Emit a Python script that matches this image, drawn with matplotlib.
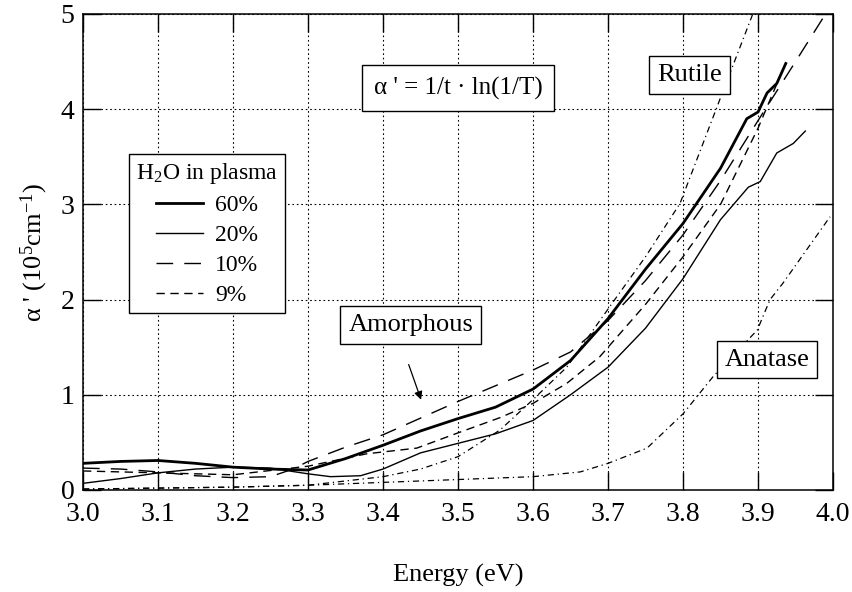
import matplotlib
matplotlib.use("Agg")
import matplotlib.pyplot as plt

plt.rcParams['font.family'] = ['Liberation Serif', 'DejaVu Serif']
plt.rcParams['mathtext.fontset'] = 'custom'
plt.rcParams['mathtext.rm'] = 'Liberation Serif'
plt.rcParams['mathtext.default'] = 'regular'

# 60 % H2O (thick solid)
e60 = [3.0, 3.05, 3.1, 3.15, 3.2, 3.25, 3.3, 3.35, 3.4, 3.45, 3.5, 3.55, 3.6,
       3.65, 3.7, 3.75, 3.8, 3.85, 3.885, 3.9, 3.912, 3.925, 3.937]
a60 = [0.28, 0.30, 0.31, 0.28, 0.24, 0.22, 0.21, 0.33, 0.47, 0.62, 0.75, 0.87, 1.06,
       1.36, 1.80, 2.32, 2.80, 3.38, 3.90, 3.97, 4.17, 4.27, 4.48]

# 20 % H2O (thin solid)
e20 = [3.0, 3.05, 3.1, 3.15, 3.2, 3.25, 3.3, 3.33, 3.37, 3.4, 3.45, 3.5, 3.55, 3.6,
       3.65, 3.7, 3.75, 3.8, 3.85, 3.887, 3.903, 3.925, 3.947, 3.963]
a20 = [0.07, 0.12, 0.18, 0.22, 0.24, 0.23, 0.17, 0.14, 0.15, 0.22, 0.39, 0.49, 0.59, 0.73,
       1.00, 1.29, 1.70, 2.22, 2.84, 3.18, 3.24, 3.54, 3.64, 3.77]

# 10 % H2O (long dash)
e10 = [3.0, 3.05, 3.1, 3.15, 3.2, 3.25, 3.28, 3.3, 3.35, 3.4, 3.5, 3.6, 3.65,
       3.7, 3.75, 3.8, 3.85, 3.9, 3.95, 3.99]
a10 = [0.23, 0.22, 0.19, 0.15, 0.13, 0.14, 0.22, 0.30, 0.45, 0.58, 0.93, 1.26, 1.45,
       1.78, 2.20, 2.68, 3.25, 3.88, 4.50, 5.0]

# 9 % H2O (short dash)
e9 = [3.0, 3.1, 3.2, 3.3, 3.378, 3.445, 3.5, 3.556, 3.6, 3.645, 3.689, 3.75,
      3.8, 3.85, 3.9, 3.935]
a9 = [0.20, 0.18, 0.16, 0.25, 0.38, 0.44, 0.60, 0.76, 0.91, 1.12, 1.40, 1.95,
      2.45, 3.00, 3.80, 4.45]

# rutile reference (dash-dot)
eru = [3.0, 3.1, 3.2, 3.3, 3.4, 3.45, 3.5, 3.556, 3.6, 3.645, 3.709, 3.75, 3.796,
       3.849, 3.893]
aru = [0.01, 0.02, 0.03, 0.05, 0.14, 0.22, 0.35, 0.63, 0.95, 1.29, 2.0, 2.45, 3.01,
       4.1, 5.0]

# anatase reference (dash-dot)
ean = [3.0, 3.1, 3.2, 3.3, 3.4, 3.5, 3.6, 3.663, 3.7, 3.752, 3.8, 3.84, 3.899,
       3.916, 3.933, 3.996]
aan = [0.01, 0.02, 0.03, 0.05, 0.08, 0.11, 0.14, 0.19, 0.28, 0.44, 0.80, 1.19, 1.68,
       2.0, 2.17, 2.87]

fig = plt.figure(figsize=(8.53, 5.92), dpi=100)
ax = fig.add_axes([0.0973, 0.1723, 0.8793, 0.8041])

ax.grid(True, color='black', linestyle=(0, (1.5, 2.5)), linewidth=0.8)
ax.set_axisbelow(True)

ax.plot(e60, a60, color='black', lw=2.0, label='60%')
ax.plot(e20, a20, color='black', lw=1.0, label='20%')
ax.plot(e10, a10, color='black', lw=1.0, dashes=(12, 8), label='10%')
ax.plot(e9, a9, color='black', lw=1.0, dashes=(6, 4), label='9%')
ax.plot(eru, aru, color='black', lw=0.9, dashes=(5, 3, 1, 3))
ax.plot(ean, aan, color='black', lw=0.9, dashes=(5, 3, 1, 3))

ax.set_xlim(3.0, 4.0)
ax.set_ylim(0, 5)
ax.set_xticks([3.0, 3.1, 3.2, 3.3, 3.4, 3.5, 3.6, 3.7, 3.8, 3.9, 4.0])
ax.set_yticks([0, 1, 2, 3, 4, 5])
ax.tick_params(direction='in', length=13, width=1.0, top=True, right=True,
               labelsize=20)
ax.tick_params(axis='x', pad=9)
ax.tick_params(axis='y', pad=6)
for s in ax.spines.values():
    s.set_linewidth(1.1)

ax.set_xlabel('Energy (eV)', fontsize=19, labelpad=26)
ax.set_ylabel("α ' (10$^{5}$cm$^{-1}$)", fontsize=19, labelpad=8)

leg = ax.legend(title='H$_{2}$O in plasma', loc='upper left',
                bbox_to_anchor=(0.061, 0.706), borderaxespad=0, fontsize=17,
                title_fontsize=17, fancybox=False, edgecolor='black',
                framealpha=1, handlelength=2.0, labelspacing=0.36,
                borderpad=0.3, handletextpad=0.5)
leg.get_frame().set_linewidth(1.0)

box = dict(boxstyle='square,pad=0.3', facecolor='white', edgecolor='black', lw=1.0)
fbox = dict(boxstyle='square,pad=0.45', facecolor='white', edgecolor='black', lw=1.0)
ax.text(3.5, 4.22, "α ' = 1/t · ln(1/T)", fontsize=18, ha='center', va='center', bbox=fbox)
ax.text(3.809, 4.36, 'Rutile', fontsize=19, ha='center', va='center', bbox=box)
ax.text(3.437, 1.73, 'Amorphous', fontsize=19, ha='center', va='center', bbox=box)
ax.text(3.912, 1.37, 'Anatase', fontsize=19, ha='center', va='center', bbox=box)
ax.annotate('', xy=(3.452, 0.92), xytext=(3.433, 1.345),
            arrowprops=dict(arrowstyle='-|>', color='black', lw=0.9,
                            mutation_scale=12))

fig.savefig('out.png', dpi=100)
